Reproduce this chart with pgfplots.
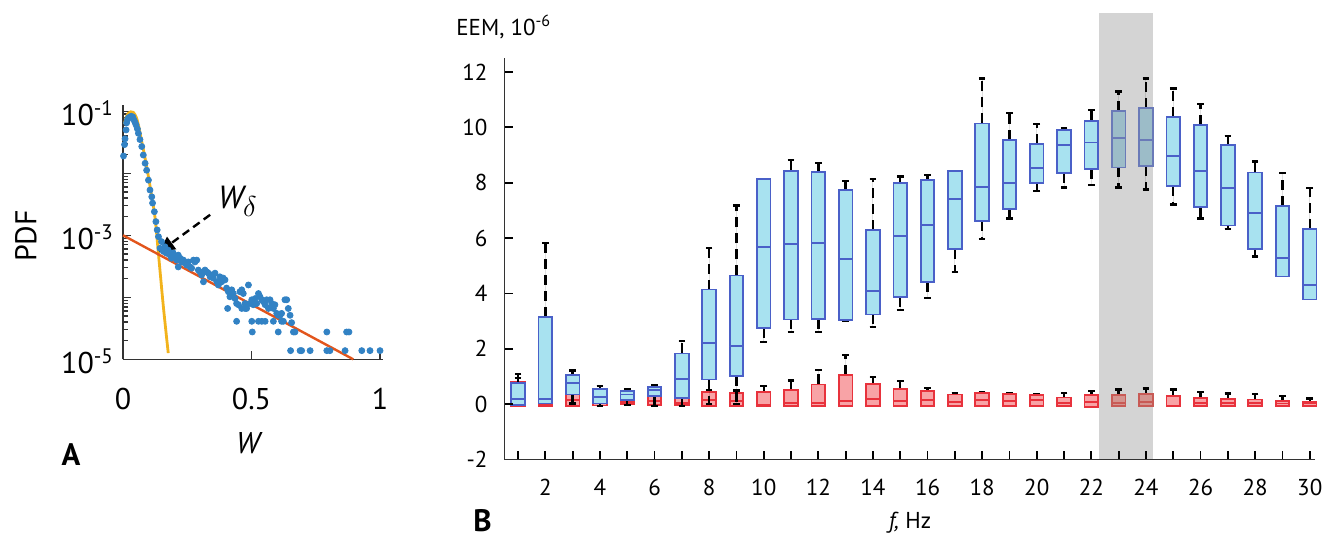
\documentclass[border=0pt]{standalone}
\usepackage{fontspec}
\setmainfont{PT Sans}
\usepackage{pgfplots}
\pgfplotsset{compat=1.18}
\usepgfplotslibrary{statistics}
\usetikzlibrary{arrows.meta}

\definecolor{bfill}{HTML}{A8E2F0}
\definecolor{bedge}{HTML}{4A60C8}
\definecolor{rfill}{HTML}{F8A3A6}
\definecolor{redge}{HTML}{E8323C}
\definecolor{gband}{HTML}{D4D4D4}
\definecolor{bfillg}{HTML}{9CBCC8}
\definecolor{bedgeg}{HTML}{6A7AB8}
\definecolor{rfillg}{HTML}{D4948F}
\definecolor{redgeg}{HTML}{C85A55}
\definecolor{dotblue}{HTML}{3282C4}
\definecolor{yel}{HTML}{F2B31C}
\definecolor{redl}{HTML}{E2551C}
\definecolor{axgray}{HTML}{333333}

\pgfplotsset{
  boxplot/draw/lower whisker/.code={%
    \draw[black,line width=1.2pt,dash pattern=on 5pt off 3pt]
      (boxplot box cs:\pgfplotsboxplotvalue{lower quartile},0.5) --
      (boxplot box cs:\pgfplotsboxplotvalue{lower whisker},0.5);
    \draw[black,line width=1.2pt,solid]
      (boxplot whisker cs:\pgfplotsboxplotvalue{lower whisker},0) --
      (boxplot whisker cs:\pgfplotsboxplotvalue{lower whisker},1);
  },
  boxplot/draw/upper whisker/.code={%
    \draw[black,line width=1.2pt,dash pattern=on 5pt off 3pt]
      (boxplot box cs:\pgfplotsboxplotvalue{upper quartile},0.5) --
      (boxplot box cs:\pgfplotsboxplotvalue{upper whisker},0.5);
    \draw[black,line width=1.2pt,solid]
      (boxplot whisker cs:\pgfplotsboxplotvalue{upper whisker},0) --
      (boxplot whisker cs:\pgfplotsboxplotvalue{upper whisker},1);
  },
  nolw/.style={boxplot/draw/lower whisker/.code={}},
  nouw/.style={boxplot/draw/upper whisker/.code={}},
  bluebox/.style={draw=bedge,fill=bfill,line width=0.9pt,solid,
    boxplot/every median/.style={draw=bedge,line width=0.9pt}},
  blueboxg/.style={draw=bedgeg,fill=bfillg,line width=0.9pt,solid,
    boxplot/every median/.style={draw=bedgeg,line width=0.9pt}},
  redbox/.style={draw=redge,fill=rfill,line width=0.9pt,solid,nolw,
    boxplot/every median/.style={draw=redge,line width=0.9pt}},
  redboxg/.style={draw=redgeg,fill=rfillg,line width=0.9pt,solid,nolw,
    boxplot/every median/.style={draw=redgeg,line width=0.9pt}},
}
\newcommand\bb[7][]{\addplot[bluebox,#1,boxplot prepared={draw position=#2,lower whisker=#3,lower quartile=#4,median=#5,upper quartile=#6,upper whisker=#7}] coordinates {};}
\newcommand\rb[7][]{\addplot[redbox,#1,boxplot prepared={draw position=#2,lower whisker=#3,lower quartile=#4,median=#5,upper quartile=#6,upper whisker=#7}] coordinates {};}

\begin{document}
\begin{tikzpicture}
\useasboundingbox (0,0) rectangle (663pt,-271pt);

% ---------------- Panel A ----------------
\begin{axis}[
  at={(61.5pt,-179.65pt)}, anchor=south west,
  scale only axis, width=129.8pt, height=127.25pt,
  ymode=log, xmin=0, xmax=1.01, ymin=1e-5, ymax=0.127,
  axis lines*=left, axis line style={axgray,line width=0.8pt},
  tick align=inside, major tick length=4pt, minor tick length=2.5pt,
  tick style={axgray,line width=0.6pt},
  xtick={0,0.5,1}, xticklabels={0,0.5,1},
  ytick={1e-5,1e-4,1e-3,1e-2,1e-1},
  yticklabels={10\textsuperscript{-5},,10\textsuperscript{-3},,10\textsuperscript{-1}},
  minor ytick={2e-5,3e-5,4e-5,5e-5,6e-5,7e-5,8e-5,9e-5,2e-4,3e-4,4e-4,5e-4,6e-4,7e-4,8e-4,9e-4,2e-3,3e-3,4e-3,5e-3,6e-3,7e-3,8e-3,9e-3,2e-2,3e-2,4e-2,5e-2,6e-2,7e-2,8e-2,9e-2},
  ticklabel style={font=\fontsize{15}{17}\selectfont},
  xticklabel style={yshift=-11pt},
  yticklabel style={yshift=-1pt,xshift=-1pt},
  clip=false,
]
\addplot[yel,line width=1.4pt,smooth] coordinates {
(0.005,0.062) (0.012,0.0794) (0.021,0.093) (0.030,0.098) (0.040,0.096) (0.051,0.081) (0.060,0.060) (0.073,0.0324) (0.086,0.0174) (0.099,0.0088) (0.112,0.00417) (0.125,0.00186) (0.138,0.0005) (0.157,0.000071) (0.176,0.0000126)};
\addplot[only marks,mark=*,mark size=1.5pt,dotblue] coordinates {
(0.002,0.019) (0.006,0.029) (0.008,0.036) (0.012,0.050) (0.014,0.065) (0.018,0.074) (0.021,0.078) (0.027,0.081) (0.032,0.083) (0.038,0.081) (0.043,0.072) (0.047,0.066) (0.051,0.060) (0.056,0.052) (0.060,0.044) (0.066,0.035) (0.073,0.027) (0.079,0.0197) (0.086,0.0145) (0.092,0.0112) (0.099,0.00776) (0.105,0.00537) (0.112,0.00417) (0.115,0.00331) (0.122,0.00240) (0.128,0.00166) (0.133,0.00122) (0.138,0.00095)
(0.144,0.000617) (0.150,0.000790) (0.157,0.000550) (0.163,0.000653) (0.170,0.000513) (0.176,0.000575) (0.183,0.000479) (0.189,0.000427) (0.195,0.000520) (0.202,0.000447) (0.209,0.000398) (0.215,0.000479) (0.222,0.000427) (0.228,0.000372) (0.235,0.000398) (0.241,0.000355) (0.248,0.000331) (0.215,0.000309) (0.254,0.000372) (0.261,0.000309) (0.267,0.000295) (0.274,0.000398) (0.280,0.000372) (0.287,0.000398) (0.293,0.000275) (0.300,0.000257) (0.306,0.000229) (0.313,0.000178) (0.319,0.000275) (0.326,0.000257) (0.332,0.000245) (0.339,0.000214) (0.345,0.000229) (0.351,0.000204) (0.358,0.000245) (0.365,0.000178) (0.371,0.000158) (0.377,0.000214) (0.384,0.000178) (0.390,0.000204) (0.397,0.000191) (0.403,0.000141) (0.410,0.000123) (0.416,0.000102) (0.423,0.000132) (0.429,0.000115) (0.436,0.0000955) (0.442,0.0000794) (0.449,0.0000759) (0.455,0.000123) (0.462,0.000132) (0.468,0.000115) (0.475,0.0000794) (0.481,0.0000661) (0.488,0.000158) (0.494,0.0000794) (0.501,0.0000912) (0.507,0.0000759) (0.514,0.0000955) (0.520,0.0000794) (0.527,0.000115) (0.533,0.000102) (0.540,0.0000912) (0.546,0.0000851) (0.553,0.0000759) (0.559,0.0000912) (0.566,0.0000661) (0.572,0.0000912) (0.579,0.0000794) (0.585,0.0000661) (0.591,0.0000759) (0.598,0.0000550) (0.604,0.0000513) (0.611,0.0000513) (0.617,0.0000550) (0.624,0.0000410) (0.630,0.0000912) (0.637,0.0000912) (0.643,0.0000661) (0.650,0.0000513) (0.656,0.0000390) (0.663,0.0000276)
(0.407,0.0000661) (0.442,0.0000410) (0.462,0.0000661) (0.475,0.0000661) (0.501,0.0000410) (0.503,0.0000276) (0.527,0.0000410) (0.540,0.0000410) (0.553,0.0000410) (0.585,0.0000410) (0.604,0.0000276) (0.617,0.0000410) (0.669,0.0000276)
(0.652,0.0000138) (0.689,0.0000138) (0.695,0.0000138) (0.728,0.0000138) (0.793,0.0000138) (0.805,0.0000138) (0.864,0.0000138) (0.929,0.0000138) (0.961,0.0000138) (1.000,0.0000138) (0.793,0.0000276) (0.870,0.0000276) (0.879,0.0000276)};
\addplot[redl,line width=1.2pt] coordinates {(0,0.001) (0.896,0.00001)};
\draw[black,line width=1.2pt,dash pattern=on 4pt off 2.5pt,-{Triangle[length=8pt,width=7.5pt]}] (axis cs:0.339,0.00214) -- (axis cs:0.139,0.00053);
\node[font=\fontsize{16}{18}\selectfont] at (axis cs:0.447,0.0035) {\itshape W\textsubscript{\Large$\delta$}};
\end{axis}
\node[rotate=90,font=\fontsize{15}{17}\selectfont] at (13pt,-118pt) {PDF};
\node[font=\fontsize{15}{17}\selectfont] at (124pt,-221.5pt) {\itshape W};
\node[font=\fontsize{15.5}{17}\selectfont\bfseries] at (35.5pt,-227.5pt) {A};

% ---------------- Panel B ----------------
\begin{axis}[
  at={(252.2pt,-229.75pt)}, anchor=south west,
  scale only axis, width=405.4pt, height=200.7pt,
  xmin=0.5, xmax=30.2, ymin=-2, ymax=12.5,
  axis lines*=left, axis line style={axgray,line width=0.8pt},
  axis on top=true,
  xtick={2,4,...,30}, minor xtick={1,3,...,29},
  ytick={-2,0,...,12},
  tick align=inside, major tick length=4.5pt, minor tick length=4.5pt,
  tick style={black,line width=0.9pt},
  minor tick style={black,line width=0.9pt},
  /pgf/number format/assume math mode=true,
  ticklabel style={font=\fontsize{11.5}{13}\selectfont},
  xticklabel style={yshift=-6.5pt},
  yticklabel style={xshift=-5pt},
  clip=false,
  boxplot/draw direction=y,
  boxplot/box extend=0.5, boxplot/whisker extend=0.24,
]
\fill[gband] (axis cs:22.28,-2) rectangle (axis cs:24.25,14.13);
% red series
\rb{1}{-0.07}{-0.07}{0.05}{0.80}{0.95}
\rb{2}{-0.07}{-0.07}{0.0}{0.10}{0.15}
\rb{3}{-0.07}{-0.07}{0.14}{0.35}{0.38}
\rb{4}{-0.07}{-0.05}{0.05}{0.15}{0.20}
\rb{5}{-0.05}{0.0}{0.08}{0.16}{0.20}
\rb{6}{-0.07}{-0.02}{0.12}{0.30}{0.35}
\rb{7}{-0.07}{-0.04}{0.05}{0.23}{0.25}
\rb{8}{-0.07}{-0.07}{0.14}{0.44}{0.50}
\rb{9}{-0.07}{-0.07}{0.12}{0.40}{0.50}
\rb{10}{-0.07}{-0.07}{-0.04}{0.44}{0.65}
\rb{11}{-0.07}{-0.07}{0.05}{0.50}{0.86}
\rb{12}{-0.07}{-0.07}{0.05}{0.71}{1.23}
\rb{13}{-0.07}{-0.07}{0.12}{1.05}{1.77}
\rb{14}{-0.07}{-0.07}{0.20}{0.72}{0.98}
\rb{15}{-0.07}{-0.07}{0.11}{0.56}{0.83}
\rb{16}{-0.07}{-0.07}{0.14}{0.47}{0.59}
\rb{17}{-0.07}{-0.07}{0.08}{0.35}{0.41}
\rb{18}{-0.07}{-0.07}{0.14}{0.41}{0.44}
\rb{19}{-0.07}{-0.07}{0.12}{0.38}{0.40}
\rb{20}{-0.07}{-0.07}{0.14}{0.32}{0.35}
\rb{21}{-0.07}{-0.07}{0.03}{0.24}{0.40}
\rb{22}{-0.10}{-0.10}{0.08}{0.32}{0.48}
\rb[redboxg]{23}{-0.08}{-0.08}{0.05}{0.32}{0.53}
\rb[redboxg]{24}{-0.08}{-0.08}{0.08}{0.36}{0.56}
\rb{25}{-0.08}{-0.08}{-0.06}{0.30}{0.53}
\rb{26}{-0.08}{-0.08}{0.05}{0.23}{0.44}
\rb{27}{-0.08}{-0.08}{0.05}{0.20}{0.38}
\rb{28}{-0.08}{-0.08}{0.04}{0.17}{0.36}
\rb{29}{-0.08}{-0.08}{0.02}{0.11}{0.29}
\rb{30}{-0.08}{-0.08}{0.03}{0.08}{0.20}
% blue series
\bb[nolw]{1}{-0.05}{-0.03}{0.19}{0.77}{1.08}
\bb[nolw]{2}{-0.03}{0.02}{0.20}{3.15}{5.83}
\bb{3}{0.03}{0.35}{0.77}{1.05}{1.22}
\bb{4}{-0.07}{0.02}{0.26}{0.56}{0.66}
\bb{5}{-0.04}{0.14}{0.35}{0.47}{0.54}
\bb{6}{-0.07}{0.30}{0.50}{0.62}{0.68}
\bb{7}{-0.07}{0.23}{0.90}{1.83}{2.28}
\bb{8}{0.0}{0.89}{2.22}{4.14}{5.63}
\bb{9}{0.0}{1.01}{2.10}{4.65}{7.17}
\bb[nouw]{10}{2.25}{2.75}{5.67}{8.14}{8.14}
\bb{11}{2.61}{3.06}{5.79}{8.43}{8.82}
\bb{12}{2.61}{3.09}{5.81}{8.40}{8.71}
\bb{13}{3.00}{3.03}{5.24}{7.74}{8.07}
\bb{14}{2.79}{3.24}{4.08}{6.29}{8.13}
\bb{15}{3.41}{3.87}{6.07}{7.98}{8.22}
\bb{16}{3.84}{4.41}{6.47}{8.11}{8.28}
\bb[nouw]{17}{4.77}{5.59}{7.41}{8.42}{8.42}
\bb{18}{5.97}{6.61}{7.83}{10.14}{11.77}
\bb{19}{6.71}{7.05}{7.99}{9.55}{10.51}
\bb{20}{7.69}{8.00}{8.52}{9.41}{10.11}
\bb{21}{7.83}{8.36}{9.37}{9.91}{9.97}
\bb{22}{7.92}{8.49}{9.45}{10.23}{10.63}
\bb[blueboxg]{23}{7.83}{8.55}{9.61}{10.59}{11.29}
\bb[blueboxg]{24}{7.75}{8.59}{9.54}{10.71}{11.77}
\bb{25}{7.21}{7.88}{8.96}{10.38}{11.40}
\bb{26}{6.71}{7.11}{8.41}{10.08}{10.84}
\bb{27}{6.33}{6.45}{7.81}{9.36}{9.69}
\bb{28}{5.33}{5.59}{6.91}{8.37}{8.76}
\bb[nolw]{29}{4.61}{4.61}{5.29}{7.15}{8.35}
\bb[nolw]{30}{3.78}{3.78}{4.29}{6.33}{7.81}
\end{axis}
\node[anchor=base west,inner sep=0pt,font=\fontsize{11.5}{13}\selectfont] at (228pt,-17.5pt) {EEM, 10\textsuperscript{-6}};
\node[font=\fontsize{11.5}{13}\selectfont] at (455pt,-261.5pt) {\itshape f,\upshape\ Hz};
\node[font=\fontsize{15.5}{17}\selectfont\bfseries] at (241.25pt,-260.5pt) {B};
\end{tikzpicture}
\end{document}
